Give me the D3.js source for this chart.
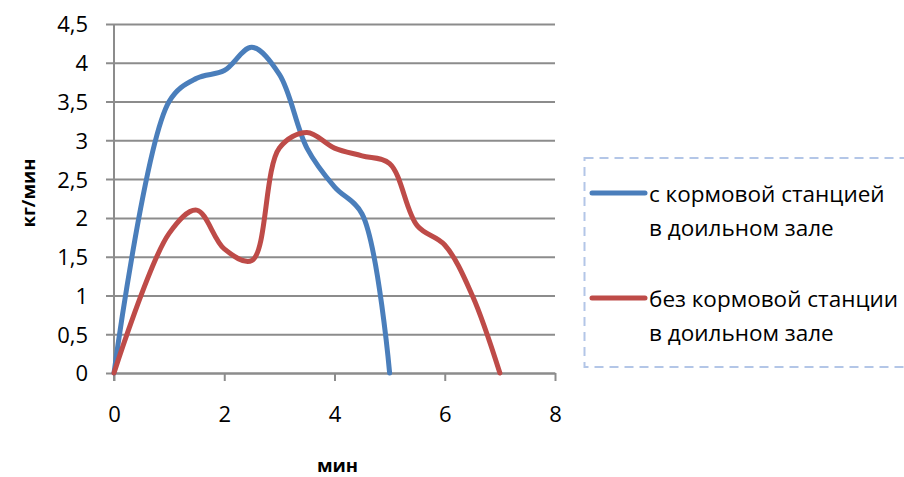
<!DOCTYPE html>
<html>
<head>
<meta charset="utf-8">
<script src="https://cdn.jsdelivr.net/npm/d3@7"></script>
<style>
  html, body { margin: 0; padding: 0; background: #fff; }
  svg { display: block; }
  text { font-family: "Open Sans", "Lato", sans-serif; fill: #000; }
</style>
</head>
<body>
<svg id="chart" width="904" height="477"></svg>
<script>
// Time in minutes and milk flow (kg/min) for the two milking setups
const minutesWith = [0, 1, 1.5, 2, 2.5, 3, 3.5, 4, 4.5, 5];
const flowWith    = [0, 3.5, 3.8, 3.9, 4.2, 3.85, 2.9, 2.4, 2.05, 0];

const minutesWithout = [0, 1, 1.5, 2, 2.5, 3, 3.5, 4, 4.5, 5, 5.5, 6, 6.5, 7];
const flowWithout    = [0, 1.8, 2.1, 1.6, 1.45, 2.9, 3.1, 2.9, 2.8, 2.7, 1.9, 1.65, 1.0, 0];

const xTicks = [0, 2, 4, 6, 8];
const yTicks = [0, 0.5, 1, 1.5, 2, 2.5, 3, 3.5, 4, 4.5];

const seriesNames = [
  ["с кормовой станцией", "в доильном зале"],
  ["без кормовой станции", "в доильном зале"]
];
const seriesColors = ["#4a7ebb", "#be4b48"];

const svg = d3.select("#chart");

const x = d3.scaleLinear().domain([0, 8]).range([114, 555]);
const y = d3.scaleLinear().domain([0, 4.5]).range([373, 24]);

const fmt = v => String(v).replace(".", ",");
const gridColor = "#8c8c8c";
const labelSize = 22;

// Horizontal gridlines with value labels
const yAxis = d3.axisLeft(y)
  .tickValues(yTicks)
  .tickFormat(fmt)
  .tickSizeInner(-(555 - 106))
  .tickSizeOuter(0)
  .tickPadding(18);
const gy = svg.append("g").attr("transform", "translate(106,0)").call(yAxis);
gy.select(".domain").remove();
gy.selectAll(".tick line").attr("stroke", gridColor).attr("stroke-width", 2);
gy.selectAll(".tick text")
  .attr("font-size", labelSize)
  .attr("dy", "0.36em")
  .style("font-family", "'Open Sans', sans-serif");

// Bottom axis with downward ticks
const xAxis = d3.axisBottom(x)
  .tickValues(xTicks)
  .tickFormat(fmt)
  .tickSizeInner(8)
  .tickSizeOuter(0)
  .tickPadding(25);
const gx = svg.append("g").attr("transform", "translate(0,373)").call(xAxis);
gx.select(".domain").attr("stroke", gridColor).attr("stroke-width", 2);
gx.selectAll(".tick line").attr("stroke", gridColor).attr("stroke-width", 2);
gx.selectAll(".tick text")
  .attr("font-size", labelSize)
  .style("font-family", "'Open Sans', sans-serif");

// Vertical axis line
svg.append("line")
  .attr("x1", x(0)).attr("x2", x(0))
  .attr("y1", y(4.5)).attr("y2", y(0) + 8)
  .attr("stroke", gridColor).attr("stroke-width", 2);

// Axis titles
svg.append("text")
  .attr("x", (x(0) + x(8)) / 2 + 3)
  .attr("y", 472)
  .attr("text-anchor", "middle")
  .attr("font-size", 18.5)
  .attr("font-weight", "bold")
  .text("мин");

svg.append("text")
  .attr("transform", "translate(35,193) rotate(-90)")
  .attr("text-anchor", "middle")
  .attr("font-size", 18.5)
  .attr("font-weight", "bold")
  .text("кг/мин");

// Smoothed flow curves
const line = d3.line()
  .x(d => x(d[0]))
  .y(d => y(d[1]))
  .curve(d3.curveCatmullRom.alpha(0.5));

const series = [
  d3.zip(minutesWith, flowWith),
  d3.zip(minutesWithout, flowWithout)
];

svg.selectAll("path.flow")
  .data(series)
  .join("path")
  .attr("class", "flow")
  .attr("d", line)
  .attr("fill", "none")
  .attr("stroke", (d, i) => seriesColors[i])
  .attr("stroke-width", 5)
  .attr("stroke-linejoin", "round")
  .attr("stroke-linecap", "round");

// Legend
svg.append("rect")
  .attr("x", 584.5).attr("y", 158)
  .attr("width", 340).attr("height", 209)
  .attr("fill", "none")
  .attr("stroke", "#b3c6e7")
  .attr("stroke-width", 2)
  .attr("stroke-dasharray", "9,6");

const legendRows = [193, 298];
const lg = svg.append("g");
legendRows.forEach((ly, i) => {
  lg.append("line")
    .attr("x1", 592).attr("x2", 645)
    .attr("y1", ly).attr("y2", ly)
    .attr("stroke", seriesColors[i])
    .attr("stroke-width", 5)
    .attr("stroke-linecap", "round");
  seriesNames[i].forEach((t, j) => {
    lg.append("text")
      .attr("x", 649)
      .attr("y", ly + 9 + j * 34)
      .attr("font-size", 22.5)
      .text(t);
  });
});
</script>
</body>
</html>
